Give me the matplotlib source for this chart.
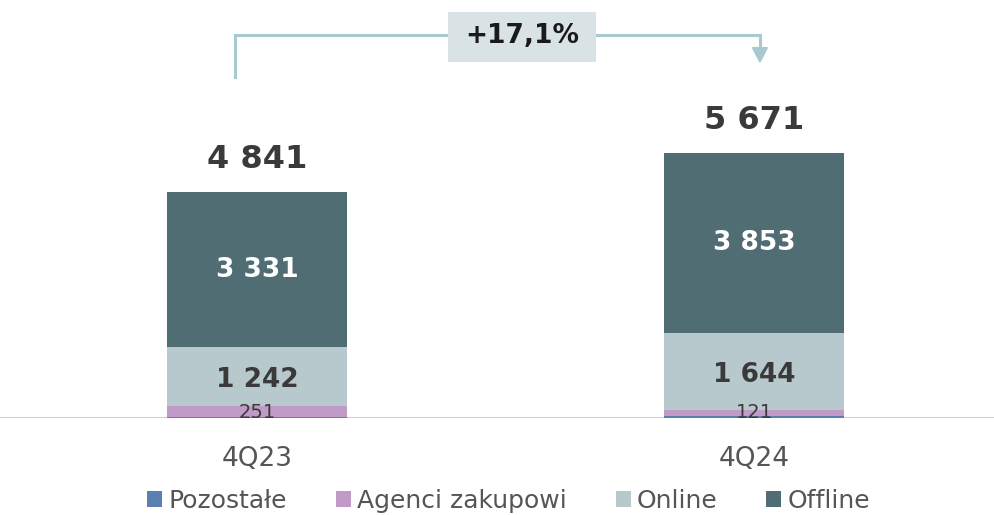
import matplotlib
matplotlib.use("Agg")
import matplotlib.pyplot as plt
from matplotlib.patches import Rectangle, Polygon
import numpy as np

categories = ["4Q23", "4Q24"]
series_names = ["Pozostałe", "Agenci zakupowi", "Online", "Offline"]
pozostale = [17, 53]
agenci = [251, 121]
online = [1242, 1644]
offline = [3331, 3853]
totals = [4841, 5671]
growth_label = "+17,1%"

colors = ["#5B7FAE", "#C19BC8", "#B7C9CC", "#4F6D73"]

def fmt(v):
    return f"{v:,}".replace(",", " ")

plt.rcParams['font.family'] = ['DejaVu Sans']

fig = plt.figure(figsize=(9.94, 5.15), dpi=100)
ax = fig.add_axes([0, 0.1883, 1, 0.8117])

x = np.arange(len(categories))
width = 0.362
bottom = np.zeros(len(categories))
for vals, c, name in zip([pozostale, agenci, online, offline], colors, series_names):
    ax.bar(x, vals, width, bottom=bottom, color=c, label=name, zorder=2)
    bottom += np.array(vals)

# segment labels
for i in range(len(categories)):
    b_off = pozostale[i] + agenci[i] + online[i]
    ax.text(x[i], b_off + offline[i] / 2, fmt(offline[i]), ha="center", va="center",
            color="white", fontsize=19, fontweight="bold", zorder=3)
    b_on = pozostale[i] + agenci[i]
    ax.text(x[i], b_on + online[i] / 2 - 80, fmt(online[i]), ha="center", va="center",
            color="#3a3a3a", fontsize=19, fontweight="bold", zorder=3)
    ax.text(x[i], 110, fmt(agenci[i]), ha="center", va="center",
            color="#3a3a3a", fontsize=14, zorder=3)
    ax.text(x[i], totals[i] + 700, fmt(totals[i]), ha="center", va="center",
            color="#3a3a3a", fontsize=23, fontweight="bold", zorder=3)

ax.set_xlim(-0.517, 1.483)
ax.set_ylim(0, 8950)
ax.axhline(0, color="#d0d0d0", lw=1.5, zorder=1)
for s in ax.spines.values():
    s.set_visible(False)
ax.set_yticks([])
ax.set_xticks(x)
ax.set_xticklabels(categories, fontsize=19, color="#555555")
ax.tick_params(axis="x", length=0, pad=20)

# growth arrow
line_c = "#A9C8D0"
x0 = -0.044
x1 = 1.012
y_low = 7300
y_top = 8200
ax.plot([x0, x0, x1, x1], [y_low, y_top, y_top, 7900], color=line_c, lw=2.2, zorder=2,
        solid_joinstyle="miter")
ax.add_patch(Polygon([[x1 - 0.015, 7930], [x1 + 0.015, 7930], [x1, 7620]],
                     closed=True, color=line_c, zorder=2))
ax.add_patch(Rectangle((0.384, 7623), 0.298, 1071, fc="#D9E3E6", ec="none", zorder=3))
ax.text(0.533, 8180, growth_label, ha="center", va="center", fontsize=19, fontweight="bold",
        color="#1a1a1a", zorder=4)

fig.legend(loc="lower center", bbox_to_anchor=(0.512, -0.04), ncol=4, frameon=False,
           fontsize=18, handlelength=0.6, handleheight=0.6, handletextpad=0.25,
           columnspacing=1.95, labelcolor="#555555")

fig.savefig("out.png", dpi=100)
